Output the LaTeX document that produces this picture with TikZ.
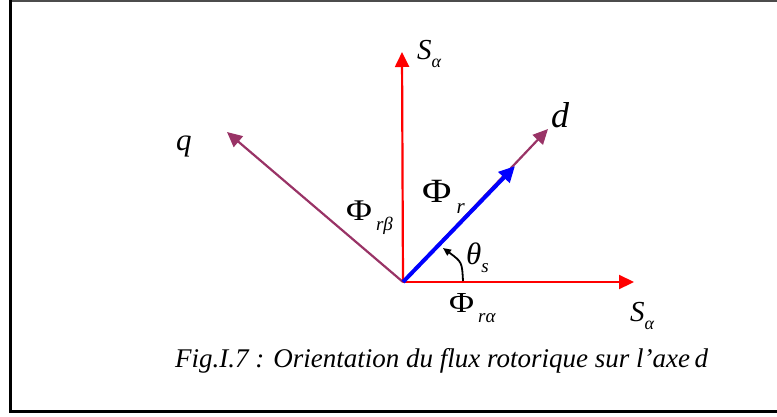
\documentclass[tikz,border=0pt]{standalone}
\usepackage{fontspec}
\setmainfont{Liberation Serif}
\usepackage{tikz}
\usetikzlibrary{positioning, arrows.meta, calc}

\definecolor{lila}{HTML}{993366}

% Index mit tiefgestelltem Zeichen
\newcommand{\idx}[3]{#1\raisebox{-#3}{#2}}
% breiteres Phi
\newcommand{\phibreit}{\scalebox{1.18}[1]{Φ}}

\tikzset{
  achse/.style={line width=2.2pt, -{Triangle[length=15pt,width=14pt]}},
  rot/.style={achse, draw=red, fill=red},
  violett/.style={achse, draw=lila, fill=lila},
  fluss/.style={line width=4pt, draw=blue, -{Triangle[length=16pt,width=15pt]}},
  txt/.style={inner sep=0pt, anchor=base west}
}

\begin{document}
\begin{tikzpicture}[x=1pt, y=-1pt]

    % Bildgrenzen
    \useasboundingbox (0,0) rectangle (777,416);

    % Rahmen (rechte Seite liegt ausserhalb)
    \draw[line width=1.5pt, black!70] (777,1) -- (10,1);
    \draw[line width=3pt] (10,0) -- (10,411) -- (777,411);

    % --- Koordinaten ---
    \coordinate (O) at (403,282);        % Ursprung
    \coordinate (SaOben) at (402,52);    % Spitze S_alpha oben
    \coordinate (SaRechts) at (634,282); % Spitze S_alpha rechts
    \coordinate (D) at (548,129);        % Spitze d-Achse
    \coordinate (Q) at (227,132);        % Spitze q-Achse
    \coordinate (Phi) at (515,166);      % Spitze Fluss

    % --- Achsen ---
    \draw[violett] (O) -- (D);
    \draw[violett] (O) -- (Q);
    \draw[rot] (O) -- (SaOben);
    \draw[rot] (O) -- (SaRechts);
    \draw[fluss] (O) -- (Phi);

    % Winkel theta_s
    \coordinate (W1) at (463,281);
    \coordinate (W2) at (443,248);
    \draw[line width=1.8pt, -{Triangle[length=8pt,width=7pt]}] (W1) .. controls (462,262) .. (W2);

    % --- Beschriftungen ---
    \node[txt, font=\fontsize{29}{29}\selectfont] (lSaOben) at (417,59)
      {\idx{\textit{S}}{\fontsize{18}{18}\selectfont\textit{α}}{8pt}};
    \node[txt, font=\fontsize{29}{29}\selectfont] (lSaRechts) at (630,321)
      {\idx{\textit{S}}{\fontsize{18}{18}\selectfont\textit{α}}{8pt}};
    \node[txt, font=\fontsize{36}{36}\selectfont\itshape] (lD) at (551,127) {d};
    \node[txt, font=\fontsize{31}{31}\selectfont\itshape] (lQ) at (176,150) {q};
    \node[txt, font=\fontsize{34}{34}\selectfont] (lPhiR) at (422,202)
      {\idx{\phibreit}{\hspace{5pt}\fontsize{21}{21}\selectfont\textit{r}}{11pt}};
    \node[txt, font=\fontsize{30}{30}\selectfont] (lPhiB) at (346,220)
      {\idx{\phibreit}{\hspace{4pt}\fontsize{19}{19}\selectfont\textit{rβ}}{10pt}};
    \node[txt, font=\fontsize{29}{29}\selectfont] (lPhiA) at (449,312)
      {\idx{\phibreit}{\hspace{4pt}\fontsize{19}{19}\selectfont\textit{rα}}{10pt}};
    \node[txt, font=\fontsize{31}{31}\selectfont] (lTheta) at (466,264)
      {\idx{\textit{θ}}{\fontsize{19}{19}\selectfont\textit{s}}{8pt}};

    % Bildunterschrift
    \node[txt, font=\fontsize{27}{27}\selectfont\itshape] (cap) at (175,367)
      {Fig.I.7 : Orientation du flux rotorique sur l’axe\,d};

\end{tikzpicture}
\end{document}
